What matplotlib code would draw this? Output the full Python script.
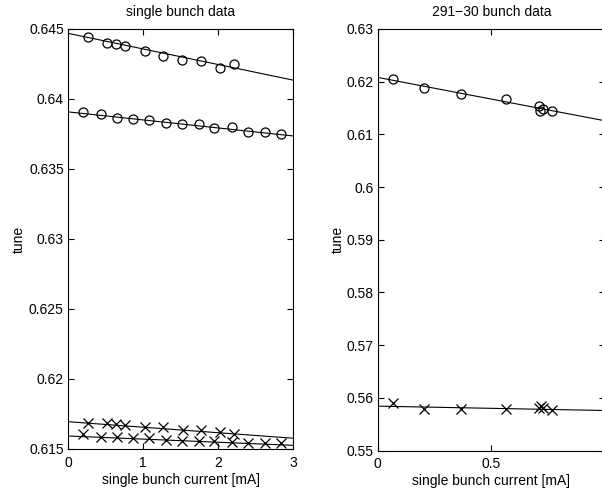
import numpy as np
import matplotlib
matplotlib.use("Agg")
import matplotlib.pyplot as plt

plt.rcParams['font.family'] = ['Liberation Sans', 'DejaVu Sans']
plt.rcParams['font.size'] = 10

# ---- left panel: single bunch data ----
sb_x_hi = [0.26, 0.52, 0.64, 0.76, 1.02, 1.26, 1.52, 1.77, 2.02, 2.21]
sb_o_hi = [0.64443, 0.64400, 0.64395, 0.64376, 0.64345, 0.64309, 0.64276, 0.64269, 0.64218, 0.64252]
sb_x_lo = [0.20, 0.44, 0.65, 0.87, 1.08, 1.30, 1.52, 1.74, 1.95, 2.18, 2.40, 2.63, 2.84]
sb_o_lo = [0.63908, 0.63894, 0.63865, 0.63858, 0.63848, 0.63832, 0.63825, 0.63818, 0.63793, 0.63798, 0.63763, 0.63767, 0.63753]
sb_x_hi2 = [0.26, 0.52, 0.64, 0.76, 1.02, 1.26, 1.53, 1.77, 2.02, 2.21]
sb_x_cross_hi = [0.61684, 0.61684, 0.61677, 0.61670, 0.61660, 0.61655, 0.61638, 0.61634, 0.61624, 0.61610]
sb_x_cross_lo = [0.61605, 0.61588, 0.61588, 0.61581, 0.61579, 0.61562, 0.61557, 0.61555, 0.61555, 0.61550, 0.61545, 0.61541, 0.61545]
sb_x_lo2 = [0.20, 0.44, 0.65, 0.87, 1.08, 1.30, 1.52, 1.74, 1.95, 2.18, 2.40, 2.63, 2.84]
# fit lines (intercept, slope)
sb_fit_o_hi = [0.64469, -0.001113]
sb_fit_o_lo = [0.63908, -0.000573]
sb_fit_x_hi = [0.61695, -0.000393]
sb_fit_x_lo = [0.61593, -0.000223]

# ---- right panel: 291-30 bunch data ----
mb_x = [0.067, 0.203, 0.368, 0.564, 0.711, 0.715, 0.727, 0.769]
mb_o = [0.62044, 0.61885, 0.61765, 0.61664, 0.61543, 0.61442, 0.61486, 0.61442]
mb_xc = [0.067, 0.203, 0.368, 0.564, 0.711, 0.720, 0.727, 0.769]
mb_cross = [0.55899, 0.55792, 0.55779, 0.55792, 0.55804, 0.55836, 0.55804, 0.55773]
mb_fit_o = [0.62082, -0.00824]
mb_fit_x = [0.55842, -0.00083]

W, H = 602, 495
fig = plt.figure(figsize=(W / 100, H / 100), dpi=100)

def ax_at(x0, x1, y0, y1):
    return fig.add_axes([x0 / W, 1 - y1 / H, (x1 - x0) / W, (y1 - y0) / H])

ax1 = ax_at(68, 293, 29, 449)
ax2 = ax_at(377.5, 605, 29, 450.5)

mk = dict(color='black', linestyle='none', markersize=6.5, markeredgewidth=0.9)

def style(ax):
    ax.tick_params(direction='in', top=True, right=True, length=4, width=0.8,
                   labelsize=10, colors='black')
    ax.tick_params(axis='x', pad=5)
    ax.tick_params(axis='y', pad=3)
    for s in ax.spines.values():
        s.set_linewidth(0.8)

# left
xl = np.array([0, 3])
for fit in (sb_fit_o_hi, sb_fit_o_lo, sb_fit_x_hi, sb_fit_x_lo):
    ax1.plot(xl, fit[0] + fit[1] * xl, color='black', lw=0.8)
ax1.plot(sb_x_hi, sb_o_hi, marker='o', markerfacecolor='none', **mk)
ax1.plot(sb_x_lo, sb_o_lo, marker='o', markerfacecolor='none', **mk)
ax1.plot(sb_x_hi2, sb_x_cross_hi, marker='x', **mk)
ax1.plot(sb_x_lo2, sb_x_cross_lo, marker='x', **mk)
ax1.set_xlim(0, 3)
ax1.set_ylim(0.615, 0.645)
ax1.set_xticks([0, 1, 2, 3])
ax1.set_xticklabels(['0', '1', '2', '3'])
yt1 = [0.615, 0.62, 0.625, 0.63, 0.635, 0.64, 0.645]
ax1.set_yticks(yt1)
ax1.set_yticklabels(['0.615', '0.62', '0.625', '0.63', '0.635', '0.64', '0.645'])
ax1.set_xlabel('single bunch current [mA]', labelpad=2)
ax1.set_ylabel('tune', labelpad=2)
ax1.set_title('single bunch data', fontsize=10, pad=9)
style(ax1)

# right
xr = np.array([0, 1])
for fit in (mb_fit_o, mb_fit_x):
    ax2.plot(xr, fit[0] + fit[1] * xr, color='black', lw=0.8)
ax2.plot(mb_x, mb_o, marker='o', markerfacecolor='none', **mk)
ax2.plot(mb_xc, mb_cross, marker='x', **mk)
ax2.set_xlim(0, 1)
ax2.set_ylim(0.55, 0.63)
ax2.set_xticks([0, 0.5, 1])
ax2.set_xticklabels(['0', '0.5', '1'])
yt2 = [0.55, 0.56, 0.57, 0.58, 0.59, 0.6, 0.61, 0.62, 0.63]
ax2.set_yticks(yt2)
ax2.set_yticklabels(['0.55', '0.56', '0.57', '0.58', '0.59', '0.6', '0.61', '0.62', '0.63'])
ax2.set_xlabel('single bunch current [mA]', labelpad=2)
ax2.set_ylabel('tune', labelpad=1)
ax2.set_title('291\u221230 bunch data', fontsize=10, pad=9)
style(ax2)

fig.savefig('out.png', dpi=100)
